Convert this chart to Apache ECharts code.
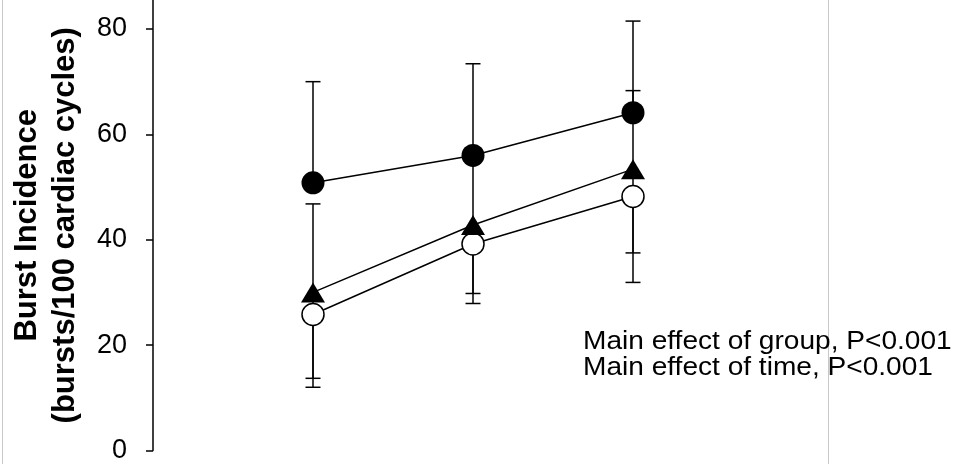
<!DOCTYPE html>
<html>
<head>
<meta charset="utf-8">
<script src="https://cdn.jsdelivr.net/npm/echarts@6/dist/echarts.min.js"></script>
<style>
  html, body { margin: 0; padding: 0; background: #fff; }
  #chart { width: 963px; height: 464px; }
</style>
</head>
<body>
<div id="chart"></div>
<script>
// Time points (x positions on a hidden value axis)
const timepoints = [1, 2, 3];

// Filled circles: mean and upper SD
const filledMean = [50.8, 56.0, 64.1];
const filledUpper = [70.0, 73.4, 81.5];

// Filled triangles: mean, upper and lower SD
const triMean = [30.0, 42.8, 53.4];
const triUpper = [46.8, 55.8, 68.3];
const triLower = [13.7, 29.8, 37.5];

// Open circles: mean and lower SD
const openMean = [25.8, 39.2, 48.2];
const openLower = [12.0, 27.9, 31.9];

// Y axis ticks
const yTicks = [0, 20, 40, 60, 80];

const annotations = ['Main effect of group, P<0.001', 'Main effect of time, P<0.001'];

const FONT = 'Liberation Sans, Arial, sans-serif';

function pairs(xs, ys) { return xs.map((x, i) => [x, ys[i]]); }
function whiskers(xs, from, to) { return xs.map((x, i) => [x, from[i], to[i]]); }

const whiskerData = []
  .concat(whiskers(timepoints, filledMean, filledUpper))
  .concat(whiskers(timepoints, triMean, triUpper))
  .concat(whiskers(timepoints, triMean, triLower))
  .concat(whiskers(timepoints, openMean, openLower));

// Vertical SD whisker from the mean to its end, capped at the end
function renderWhisker(params, api) {
  const x = api.value(0);
  const a = api.coord([x, api.value(1)]);
  const b = api.coord([x, api.value(2)]);
  const half = 7.5;
  const style = { stroke: '#000', lineWidth: 1.5 };
  return {
    type: 'group',
    children: [
      { type: 'line', shape: { x1: a[0], y1: a[1], x2: b[0], y2: b[1] }, style },
      { type: 'line', shape: { x1: b[0] - half, y1: b[1], x2: b[0] + half, y2: b[1] }, style }
    ]
  };
}

const chart = echarts.init(document.getElementById('chart'), null, { renderer: 'canvas' });

chart.setOption({
  backgroundColor: '#fff',
  animation: false,
  grid: { left: 149, right: 170, top: 0, bottom: 12, containLabel: false },
  xAxis: {
    type: 'value', min: 0, max: 4,
    show: false
  },
  yAxis: {
    type: 'value', min: 0, max: 85.5,
    splitLine: { show: false },
    axisLine: { show: true, lineStyle: { color: '#000', width: 1.5 } },
    axisTick: { show: true, length: 7, inside: false, customValues: yTicks, lineStyle: { color: '#000', width: 1.5 } },
    axisLabel: { customValues: yTicks, margin: 26, color: '#000', fontSize: 27, fontFamily: FONT },
    name: 'Burst Incidence\n(bursts/100 cardiac cycles)',
    nameLocation: 'middle',
    nameRotate: 90,
    nameGap: 69,
    nameTextStyle: { color: '#000', fontSize: 31, fontWeight: 'bold', fontFamily: FONT, lineHeight: 38, align: 'center' }
  },
  series: [
    {
      type: 'custom',
      renderItem: renderWhisker,
      data: whiskerData,
      z: 1,
      silent: true
    },
    {
      type: 'line',
      data: pairs(timepoints, openMean),
      symbol: 'circle', symbolSize: 22,
      lineStyle: { color: '#000', width: 1.5 },
      itemStyle: { color: '#fff', borderColor: '#000', borderWidth: 1.5 },
      z: 3
    },
    {
      type: 'line',
      data: pairs(timepoints, triMean),
      symbol: 'triangle', symbolSize: [24, 20],
      lineStyle: { color: '#000', width: 1.5 },
      itemStyle: { color: '#000', borderWidth: 0 },
      z: 4
    },
    {
      type: 'line',
      data: pairs(timepoints, filledMean),
      symbol: 'circle', symbolSize: 23,
      lineStyle: { color: '#000', width: 1.5 },
      itemStyle: { color: '#000', borderWidth: 0 },
      z: 5
    }
  ],
  graphic: [
    { type: 'line', shape: { x1: 2.5, y1: 0, x2: 2.5, y2: 464 }, style: { stroke: '#c8c8c8', lineWidth: 1 }, silent: true },
    { type: 'line', shape: { x1: 828.5, y1: 0, x2: 828.5, y2: 464 }, style: { stroke: '#c8c8c8', lineWidth: 1 }, silent: true },
    { type: 'text', x: 583, y: 341.5, scaleX: 1.08, style: { text: annotations[0], fill: '#000', font: '26px ' + FONT, textVerticalAlign: 'middle' }, z: 10 },
    { type: 'text', x: 583, y: 367.5, scaleX: 1.08, style: { text: annotations[1], fill: '#000', font: '26px ' + FONT, textVerticalAlign: 'middle' }, z: 10 }
  ]
});
</script>
</body>
</html>
